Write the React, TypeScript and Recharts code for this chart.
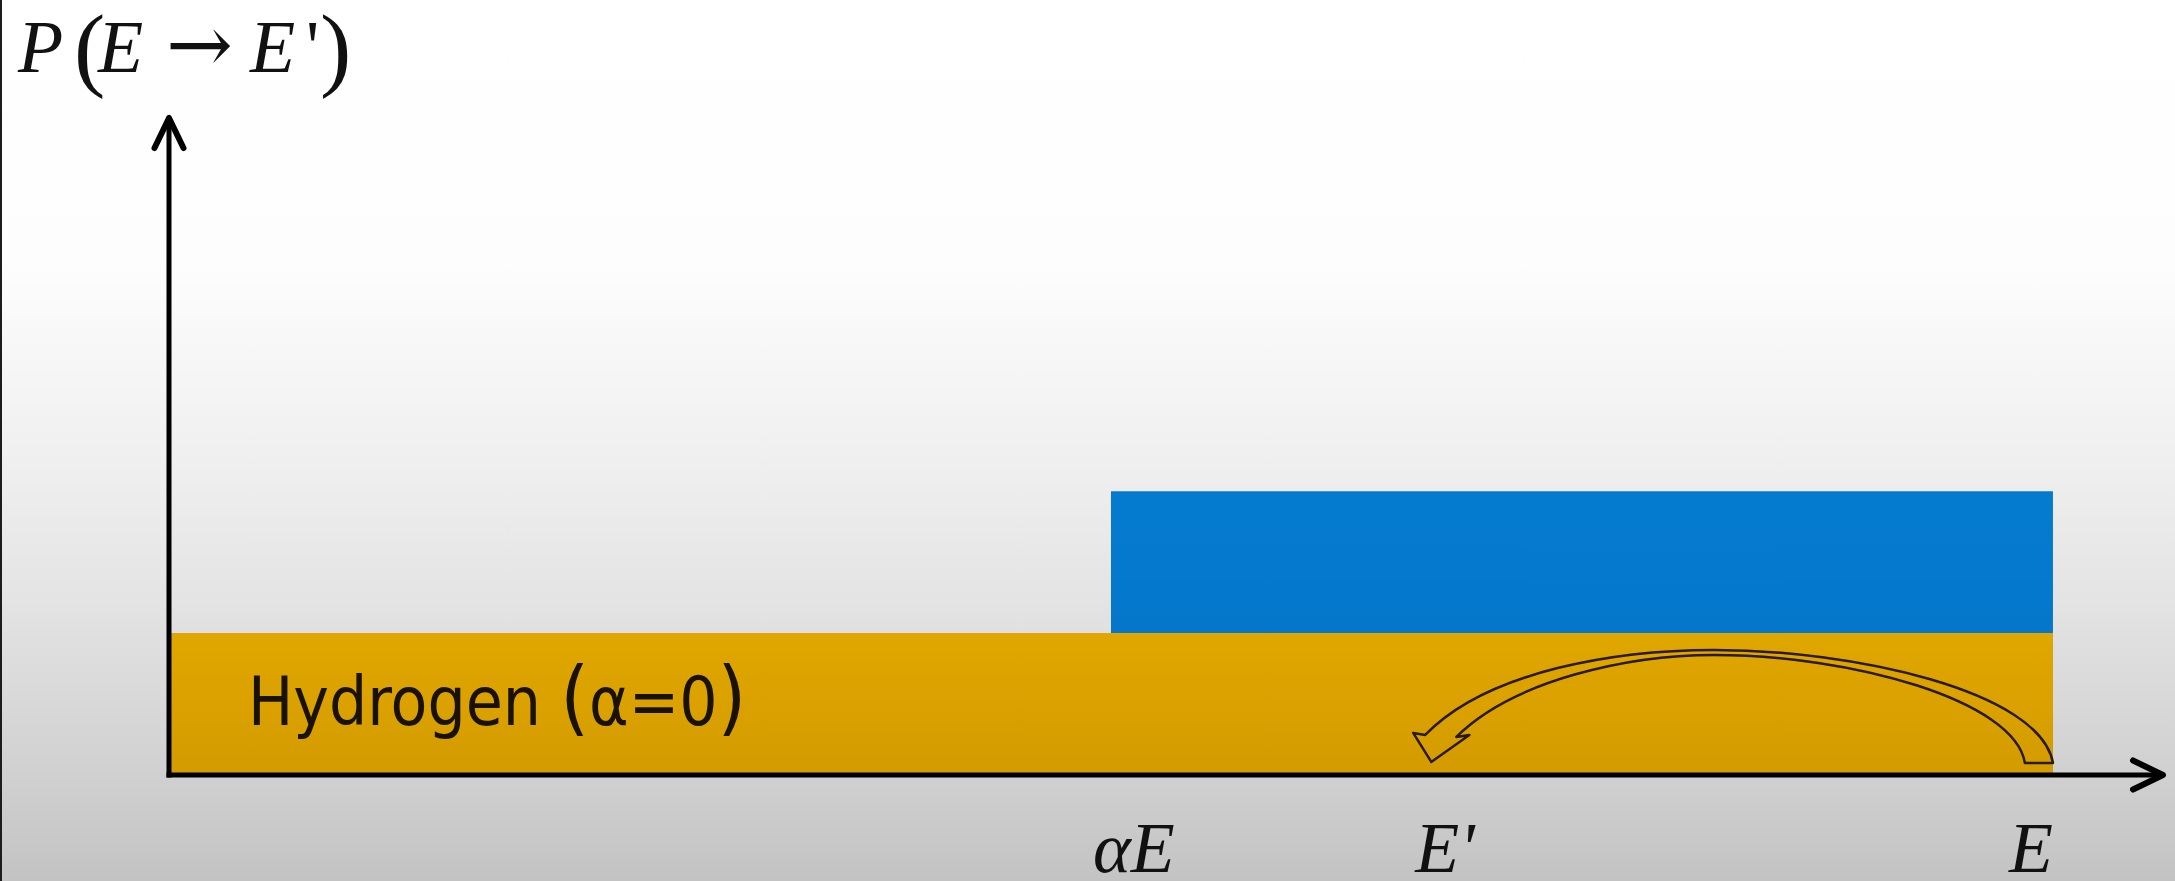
import { ComposedChart, Area, XAxis, YAxis, ReferenceLine } from 'recharts';

const WIDTH = 2175;
const HEIGHT = 881;

// energy axis in units where the incoming energy E = 100
const energies = [0, 50, 100];
const hydrogenProb = [1, 1, 1];
const heavyProb = [null, 2, 2];

const tickValues = [50, 67, 100];
const tickLabels = ['αE', "E'", 'E'];

const X_MAX = 106;
const Y_MAX = 4.65;

// the scattering hop drawn from E down to E'
const hopFrom = 100;
const hopTo = 67;
const hopLevel = 0.085;

const data = energies.map((x, i) => ({
  x,
  hydrogen: hydrogenProb[i],
  heavy: heavyProb[i],
}));

const tickPlacement: Record<number, { anchor: 'start' | 'end' | 'middle'; dx: number }> = {
  50: { anchor: 'start', dx: -18 },
  67: { anchor: 'start', dx: -16 },
  100: { anchor: 'end', dx: 0 },
};

const MATH_FONT = "'Liberation Serif', 'DejaVu Serif', serif";

const EnergyTick = ({ x, y, payload, index }: any) => {
  const place = tickPlacement[payload.value] || { anchor: 'middle', dx: 0 };
  const i = tickValues.indexOf(payload.value);
  return (
    <text
      x={x + place.dx}
      y={y + 89}
      textAnchor={place.anchor}
      fontFamily={MATH_FONT}
      fontStyle="italic"
      fontSize={72}
      fill="#111"
    >
      {tickLabels[i >= 0 ? i : index]}
    </text>
  );
};

// axis line with an open chevron head at its far end
const AxisArrow = (props: any) => {
  const { x1, y1, x2, y2 } = props;
  const len = Math.hypot(x2 - x1, y2 - y1) || 1;
  const ux = (x2 - x1) / len;
  const uy = (y2 - y1) / len;
  const tipX = x2 - ux * 3;
  const tipY = y2 - uy * 3;
  const back = 30;
  const half = 14.5;
  const bx = tipX - ux * back;
  const by = tipY - uy * back;
  const px = -uy;
  const py = ux;
  return (
    <g>
      <line
        x1={x1 - ux * 2.5}
        y1={y1 - uy * 2.5}
        x2={tipX - ux * 1.5}
        y2={tipY - uy * 1.5}
        stroke="#000"
        strokeWidth={5}
      />
      <polyline
        points={`${bx + px * half},${by + py * half} ${tipX},${tipY} ${bx - px * half},${by - py * half}`}
        fill="none"
        stroke="#000"
        strokeWidth={6}
        strokeLinecap="round"
        strokeLinejoin="round"
      />
    </g>
  );
};

// outlined block arrow arcing from E (x1) back to E' (x2)
const CurvedArrow = (props: any) => {
  const { x1, y1, x2 } = props;
  const k = (x1 - x2) / 620;
  const P = (dx: number, dy: number) => `${x2 + dx * k} ${y1 + dy}`;
  const d = [
    `M ${P(0, -1)}`,
    `L ${P(-18, -30)}`,
    `L ${P(-6, -28)}`,
    // outer edge: up to the crest, then down to the tail at E
    `C ${P(57, -93)} ${P(187, -113)} ${P(282, -113)}`,
    `C ${P(417, -113)} ${P(607, -73)} ${P(620, 0)}`,
    `L ${P(592, 0)}`,
    // inner edge back towards the head
    `C ${P(582, -63)} ${P(417, -108)} ${P(282, -108)}`,
    `C ${P(197, -108)} ${P(82, -83)} ${P(25, -26)}`,
    `L ${P(38, -28)}`,
    'Z',
  ].join(' ');
  return <path d={d} fill="none" stroke="#2a1a02" strokeWidth={2.5} strokeLinejoin="round" />;
};

export default function App() {
  return (
    <div
      style={{
        position: 'fixed',
        left: 0,
        top: 0,
        width: WIDTH,
        height: HEIGHT,
        overflow: 'hidden',
        background:
          'linear-gradient(to bottom, #ffffff 0%, #fdfdfd 30%, #f1f1f1 50%, #e4e4e4 68%, #d0d0d0 88%, #c3c3c3 100%)',
      }}
    >
      <ComposedChart
        width={WIDTH}
        height={HEIGHT}
        data={data}
        margin={{ top: 115, right: 9, bottom: 6, left: 169 }}
      >
        <defs>
          <linearGradient id="hydrogenFill" x1="0" y1="0" x2="0" y2="1">
            <stop offset="0%" stopColor="#e0a700" />
            <stop offset="100%" stopColor="#d49b00" />
          </linearGradient>
          <linearGradient id="heavyFill" x1="0" y1="0" x2="0" y2="1">
            <stop offset="0%" stopColor="#057bd0" />
            <stop offset="100%" stopColor="#0373c6" />
          </linearGradient>
        </defs>
        <XAxis
          type="number"
          dataKey="x"
          domain={[0, X_MAX]}
          allowDataOverflow
          ticks={tickValues}
          tick={<EnergyTick />}
          tickLine={false}
          axisLine={false}
          height={100}
          interval={0}
        />
        <YAxis type="number" domain={[0, Y_MAX]} allowDataOverflow hide />
        <Area
          type="stepAfter"
          dataKey="heavy"
          stroke="none"
          fill="url(#heavyFill)"
          fillOpacity={1}
          dot={false}
          activeDot={false}
          isAnimationActive={false}
        />
        <Area
          type="stepAfter"
          dataKey="hydrogen"
          stroke="none"
          fill="url(#hydrogenFill)"
          fillOpacity={1}
          dot={false}
          activeDot={false}
          isAnimationActive={false}
        />
        <ReferenceLine
          segment={[
            { x: hopFrom, y: hopLevel },
            { x: hopTo, y: hopLevel },
          ]}
          ifOverflow="visible"
          shape={CurvedArrow}
        />
        <ReferenceLine
          segment={[
            { x: 0, y: 0 },
            { x: X_MAX, y: 0 },
          ]}
          ifOverflow="visible"
          shape={AxisArrow}
        />
        <ReferenceLine
          segment={[
            { x: 0, y: 0 },
            { x: 0, y: Y_MAX },
          ]}
          ifOverflow="visible"
          shape={AxisArrow}
        />
      </ComposedChart>

      <svg
        width={WIDTH}
        height={HEIGHT}
        style={{ position: 'absolute', left: 0, top: 0, pointerEvents: 'none' }}
      >
        <text fontFamily={MATH_FONT} fill="#111">
          <tspan x={18} y={72} fontSize={74} fontStyle="italic">P</tspan>
          <tspan x={74} y={79} fontSize={94}>(</tspan>
          <tspan x={98} y={72} fontSize={74} fontStyle="italic">E</tspan>
          <tspan x={166} y={72} fontSize={80} fontFamily="'DejaVu Serif', serif">→</tspan>
          <tspan x={250} y={72} fontSize={74} fontStyle="italic">E</tspan>
          <tspan x={306} y={72} fontSize={74}>'</tspan>
          <tspan x={320} y={79} fontSize={94}>)</tspan>
        </text>
        <text
          x={248}
          y={725}
          fontFamily="'DejaVu Sans Condensed', 'DejaVu Sans', sans-serif"
          fontSize={67}
          fill="#1a1200"
        >
          Hydrogen <tspan fontSize={82}>(</tspan>α=0<tspan fontSize={82}>)</tspan>
        </text>
      </svg>
      <div
        style={{ position: 'absolute', left: 0, top: 0, width: 2, height: HEIGHT, background: '#1c1c1c' }}
      />
    </div>
  );
}
